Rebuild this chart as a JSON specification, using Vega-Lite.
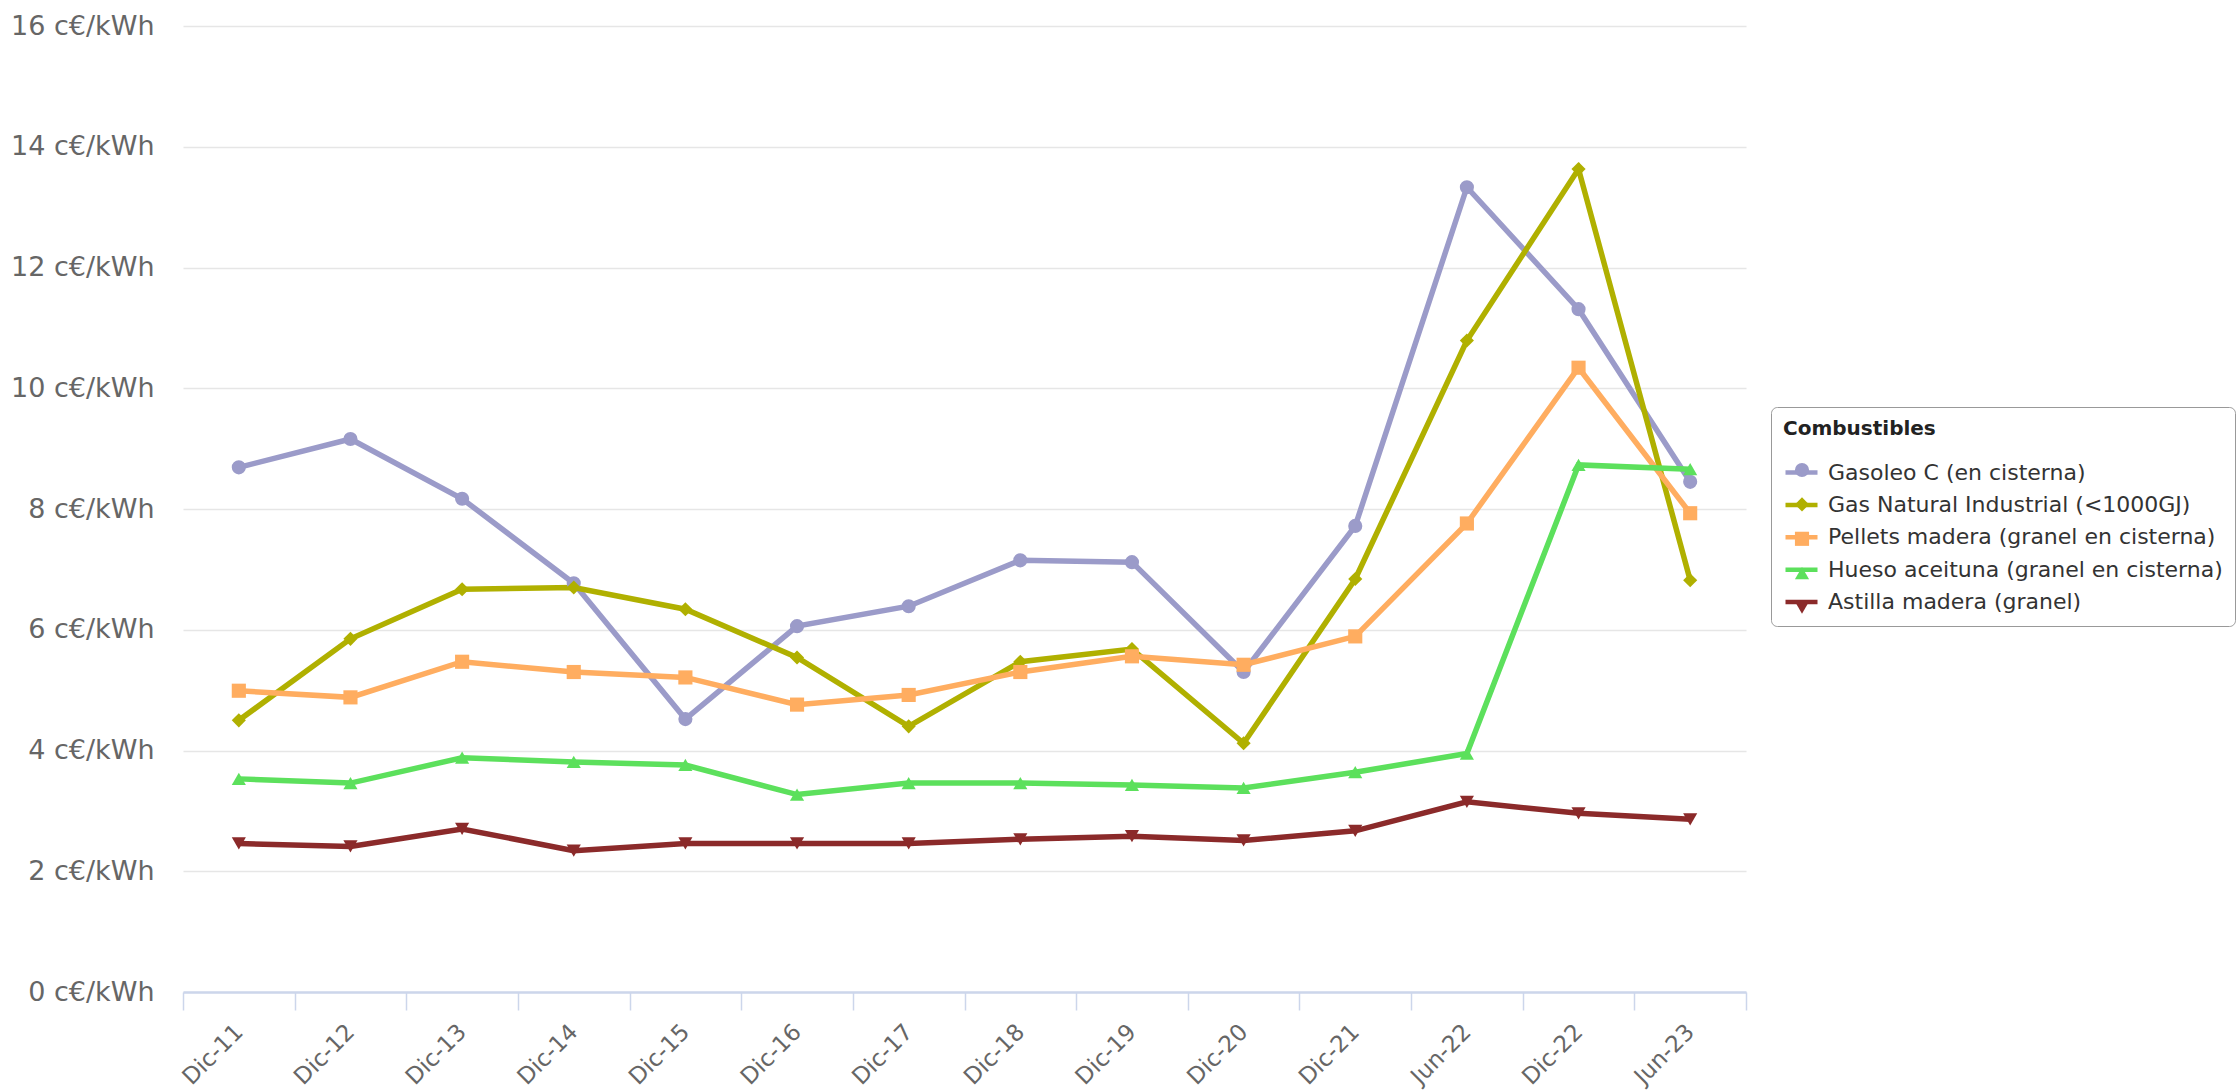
{
  "$schema": "https://vega.github.io/schema/vega-lite/v6.json",
  "autosize": {"type": "none"},
  "width": 1563,
  "height": 966,
  "padding": {"left": 183, "top": 26, "right": 493, "bottom": 99},
  "background": "white",
  "config": {
    "view": {"stroke": null},
    "font": "DejaVu Sans"
  },
  "data": {
    "values": [
      {"fecha": "Dic-11", "combustible": "Gasoleo C (en cisterna)", "precio": 8.69},
      {"fecha": "Dic-12", "combustible": "Gasoleo C (en cisterna)", "precio": 9.16},
      {"fecha": "Dic-13", "combustible": "Gasoleo C (en cisterna)", "precio": 8.17},
      {"fecha": "Dic-14", "combustible": "Gasoleo C (en cisterna)", "precio": 6.77},
      {"fecha": "Dic-15", "combustible": "Gasoleo C (en cisterna)", "precio": 4.52},
      {"fecha": "Dic-16", "combustible": "Gasoleo C (en cisterna)", "precio": 6.06},
      {"fecha": "Dic-17", "combustible": "Gasoleo C (en cisterna)", "precio": 6.39},
      {"fecha": "Dic-18", "combustible": "Gasoleo C (en cisterna)", "precio": 7.15},
      {"fecha": "Dic-19", "combustible": "Gasoleo C (en cisterna)", "precio": 7.12},
      {"fecha": "Dic-20", "combustible": "Gasoleo C (en cisterna)", "precio": 5.30},
      {"fecha": "Dic-21", "combustible": "Gasoleo C (en cisterna)", "precio": 7.72},
      {"fecha": "Jun-22", "combustible": "Gasoleo C (en cisterna)", "precio": 13.33},
      {"fecha": "Dic-22", "combustible": "Gasoleo C (en cisterna)", "precio": 11.31},
      {"fecha": "Jun-23", "combustible": "Gasoleo C (en cisterna)", "precio": 8.45},
      {"fecha": "Dic-11", "combustible": "Gas Natural Industrial (<1000GJ)", "precio": 4.50},
      {"fecha": "Dic-12", "combustible": "Gas Natural Industrial (<1000GJ)", "precio": 5.85},
      {"fecha": "Dic-13", "combustible": "Gas Natural Industrial (<1000GJ)", "precio": 6.67},
      {"fecha": "Dic-14", "combustible": "Gas Natural Industrial (<1000GJ)", "precio": 6.70},
      {"fecha": "Dic-15", "combustible": "Gas Natural Industrial (<1000GJ)", "precio": 6.34},
      {"fecha": "Dic-16", "combustible": "Gas Natural Industrial (<1000GJ)", "precio": 5.54},
      {"fecha": "Dic-17", "combustible": "Gas Natural Industrial (<1000GJ)", "precio": 4.40},
      {"fecha": "Dic-18", "combustible": "Gas Natural Industrial (<1000GJ)", "precio": 5.47},
      {"fecha": "Dic-19", "combustible": "Gas Natural Industrial (<1000GJ)", "precio": 5.68},
      {"fecha": "Dic-20", "combustible": "Gas Natural Industrial (<1000GJ)", "precio": 4.12},
      {"fecha": "Dic-21", "combustible": "Gas Natural Industrial (<1000GJ)", "precio": 6.84},
      {"fecha": "Jun-22", "combustible": "Gas Natural Industrial (<1000GJ)", "precio": 10.79},
      {"fecha": "Dic-22", "combustible": "Gas Natural Industrial (<1000GJ)", "precio": 13.63},
      {"fecha": "Jun-23", "combustible": "Gas Natural Industrial (<1000GJ)", "precio": 6.82},
      {"fecha": "Dic-11", "combustible": "Pellets madera (granel en cisterna)", "precio": 4.99},
      {"fecha": "Dic-12", "combustible": "Pellets madera (granel en cisterna)", "precio": 4.88},
      {"fecha": "Dic-13", "combustible": "Pellets madera (granel en cisterna)", "precio": 5.47},
      {"fecha": "Dic-14", "combustible": "Pellets madera (granel en cisterna)", "precio": 5.30},
      {"fecha": "Dic-15", "combustible": "Pellets madera (granel en cisterna)", "precio": 5.21},
      {"fecha": "Dic-16", "combustible": "Pellets madera (granel en cisterna)", "precio": 4.76},
      {"fecha": "Dic-17", "combustible": "Pellets madera (granel en cisterna)", "precio": 4.92},
      {"fecha": "Dic-18", "combustible": "Pellets madera (granel en cisterna)", "precio": 5.30},
      {"fecha": "Dic-19", "combustible": "Pellets madera (granel en cisterna)", "precio": 5.56},
      {"fecha": "Dic-20", "combustible": "Pellets madera (granel en cisterna)", "precio": 5.42},
      {"fecha": "Dic-21", "combustible": "Pellets madera (granel en cisterna)", "precio": 5.89},
      {"fecha": "Jun-22", "combustible": "Pellets madera (granel en cisterna)", "precio": 7.76},
      {"fecha": "Dic-22", "combustible": "Pellets madera (granel en cisterna)", "precio": 10.34},
      {"fecha": "Jun-23", "combustible": "Pellets madera (granel en cisterna)", "precio": 7.93},
      {"fecha": "Dic-11", "combustible": "Hueso aceituna (granel en cisterna)", "precio": 3.53},
      {"fecha": "Dic-12", "combustible": "Hueso aceituna (granel en cisterna)", "precio": 3.46},
      {"fecha": "Dic-13", "combustible": "Hueso aceituna (granel en cisterna)", "precio": 3.88},
      {"fecha": "Dic-14", "combustible": "Hueso aceituna (granel en cisterna)", "precio": 3.81},
      {"fecha": "Dic-15", "combustible": "Hueso aceituna (granel en cisterna)", "precio": 3.76},
      {"fecha": "Dic-16", "combustible": "Hueso aceituna (granel en cisterna)", "precio": 3.27},
      {"fecha": "Dic-17", "combustible": "Hueso aceituna (granel en cisterna)", "precio": 3.46},
      {"fecha": "Dic-18", "combustible": "Hueso aceituna (granel en cisterna)", "precio": 3.46},
      {"fecha": "Dic-19", "combustible": "Hueso aceituna (granel en cisterna)", "precio": 3.43},
      {"fecha": "Dic-20", "combustible": "Hueso aceituna (granel en cisterna)", "precio": 3.38},
      {"fecha": "Dic-21", "combustible": "Hueso aceituna (granel en cisterna)", "precio": 3.64},
      {"fecha": "Jun-22", "combustible": "Hueso aceituna (granel en cisterna)", "precio": 3.95},
      {"fecha": "Dic-22", "combustible": "Hueso aceituna (granel en cisterna)", "precio": 8.73},
      {"fecha": "Jun-23", "combustible": "Hueso aceituna (granel en cisterna)", "precio": 8.66},
      {"fecha": "Dic-11", "combustible": "Astilla madera (granel)", "precio": 2.46},
      {"fecha": "Dic-12", "combustible": "Astilla madera (granel)", "precio": 2.41},
      {"fecha": "Dic-13", "combustible": "Astilla madera (granel)", "precio": 2.70},
      {"fecha": "Dic-14", "combustible": "Astilla madera (granel)", "precio": 2.34},
      {"fecha": "Dic-15", "combustible": "Astilla madera (granel)", "precio": 2.46},
      {"fecha": "Dic-16", "combustible": "Astilla madera (granel)", "precio": 2.46},
      {"fecha": "Dic-17", "combustible": "Astilla madera (granel)", "precio": 2.46},
      {"fecha": "Dic-18", "combustible": "Astilla madera (granel)", "precio": 2.53},
      {"fecha": "Dic-19", "combustible": "Astilla madera (granel)", "precio": 2.58},
      {"fecha": "Dic-20", "combustible": "Astilla madera (granel)", "precio": 2.51},
      {"fecha": "Dic-21", "combustible": "Astilla madera (granel)", "precio": 2.67},
      {"fecha": "Jun-22", "combustible": "Astilla madera (granel)", "precio": 3.15},
      {"fecha": "Dic-22", "combustible": "Astilla madera (granel)", "precio": 2.96},
      {"fecha": "Jun-23", "combustible": "Astilla madera (granel)", "precio": 2.86}
    ]
  },
  "encoding": {
    "x": {
      "field": "fecha", "type": "ordinal", "sort": null,
      "scale": {"type": "band", "paddingInner": 0, "paddingOuter": 0},
      "axis": {
        "title": null,
        "labelAngle": -45, "labelAlign": "right", "labelBaseline": "middle",
        "labelFontSize": 23, "labelColor": "#666666", "labelPadding": 18,
        "tickBand": "extent", "tickSize": 18, "tickColor": "#ccd6eb", "tickWidth": 1.5,
        "domainColor": "#ccd6eb", "domainWidth": 2.5,
        "grid": false
      }
    },
    "y": {
      "field": "precio", "type": "quantitative",
      "scale": {"domain": [0, 16], "nice": false, "zero": true},
      "axis": {
        "title": null, "values": [0, 2, 4, 6, 8, 10, 12, 14, 16],
        "labelExpr": "datum.value + ' c€/kWh'",
        "labelFontSize": 27, "labelColor": "#666666", "labelPadding": 29,
        "ticks": false, "domain": false,
        "gridColor": "#e6e6e6", "gridWidth": 1.5
      }
    }
  },
  "layer": [
    {
      "mark": {"type": "line", "strokeWidth": 5.5},
      "encoding": {
        "color": {
          "field": "combustible", "type": "nominal", "title": "Combustibles",
          "sort": ["Gasoleo C (en cisterna)", "Gas Natural Industrial (<1000GJ)", "Pellets madera (granel en cisterna)", "Hueso aceituna (granel en cisterna)", "Astilla madera (granel)"],
          "scale": {"range": ["#9b9bc9", "#b0b000", "#ffad60", "#5ce05c", "#8b2a2a"]},
          "legend": {
            "orient": "none", "legendX": 1588, "legendY": 381,
            "titleFontSize": 20, "titleFontWeight": "bold", "titleColor": "#222222", "titlePadding": 15,
            "labelFontSize": 22, "labelColor": "#333333", "labelOffset": 8, "labelLimit": 500,
            "symbolType": "stroke", "symbolSize": 1024, "symbolStrokeWidth": 4.5, "rowPadding": 2.4,
            "strokeColor": "#999999", "cornerRadius": 6, "padding": 12
          }
        }
      }
    },
    {
      "mark": {"type": "point", "filled": true, "size": 200, "opacity": 1},
      "encoding": {
        "fill": {
          "field": "combustible", "type": "nominal", "title": null,
          "scale": {
            "domain": ["Gasoleo C (en cisterna)", "Gas Natural Industrial (<1000GJ)", "Pellets madera (granel en cisterna)", "Hueso aceituna (granel en cisterna)", "Astilla madera (granel)"],
            "range": ["#9b9bc9", "#b0b000", "#ffad60", "#5ce05c", "#8b2a2a"]
          },
          "legend": {
            "orient": "none", "legendX": 1588, "legendY": 416,
            "labelExpr": "''", "labelFontSize": 32, "labelOffset": 8,
            "symbolSize": 200, "symbolOffset": 3, "rowPadding": 2.4,
            "padding": 12
          }
        },
        "shape": {
          "field": "combustible", "type": "nominal", "title": null,
          "scale": {
            "domain": ["Gasoleo C (en cisterna)", "Gas Natural Industrial (<1000GJ)", "Pellets madera (granel en cisterna)", "Hueso aceituna (granel en cisterna)", "Astilla madera (granel)"],
            "range": ["circle", "diamond", "square", "triangle-up", "triangle-down"]
          },
          "legend": {
            "orient": "none", "legendX": 1588, "legendY": 416,
            "labelExpr": "''", "labelFontSize": 32, "labelOffset": 8,
            "symbolSize": 200, "symbolOffset": 3, "rowPadding": 2.4,
            "padding": 12
          }
        }
      }
    }
  ]
}
